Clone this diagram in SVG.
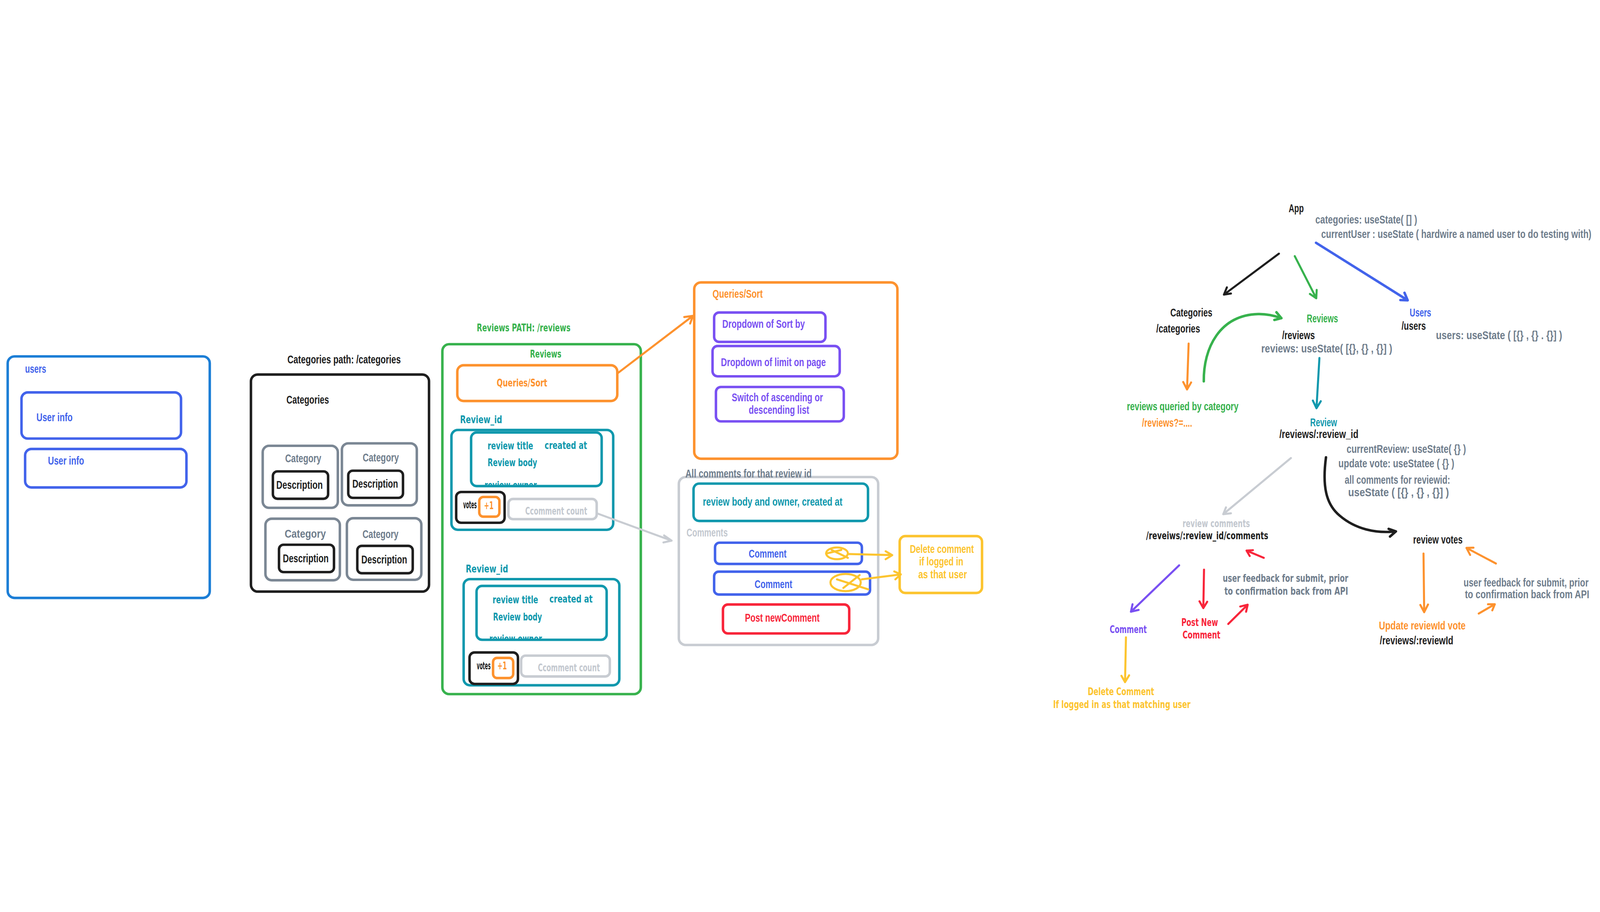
<svg xmlns="http://www.w3.org/2000/svg" width="7071" height="2334" viewBox="0 0 7071 2334">
<style>
svg{width:100vw;height:100vh}
.bx{fill:none;stroke-width:11;stroke-linecap:round;stroke-linejoin:round}
.ln{fill:none;stroke-width:9;stroke-linecap:round;stroke-linejoin:round}
.n{font-family:"Liberation Sans",Arial,sans-serif;font-weight:bold;font-size:50px}
.c{font-family:"DejaVu Sans","Liberation Sans",sans-serif;font-weight:bold;font-size:46px}
.k{fill:#1e1e1e}.bl{fill:#4263eb}.gr{fill:#6f7d8c}.lg{fill:#c3c8cf}.gn{fill:#37b24d}.or{fill:#fd922e}.tl{fill:#1098ad}.pu{fill:#7950f2}.rd{fill:#f8253a}.ye{fill:#fcc42f}
.sk{stroke:#1e1e1e}.sbl{stroke:#4263eb}.sub{stroke:#1c7ed6}.sgy{stroke:#7b8794}.slg{stroke:#c8ccd2}.sgn{stroke:#37b24d}.sor{stroke:#fd922e}.stl{stroke:#1098ad}.spu{stroke:#7950f2}.srd{stroke:#f8253a}.sye{stroke:#fcc42f}
</style>
<defs>
<clipPath id="clipA"><rect x="2090" y="1200" width="600" height="100"/></clipPath>
<clipPath id="clipB"><rect x="2110" y="1880" width="600" height="99"/></clipPath>
</defs>
<rect width="7071" height="2334" fill="#ffffff"/>

<g id="users">
<rect class="bx sub" x="34" y="727" width="893" height="1067" rx="30"/>
<text class="n bl" transform="translate(111 799) scale(.72 1)" textLength="129" lengthAdjust="spacingAndGlyphs" font-size="46">users</text>
</g>
<g id="user-info-1">
<rect class="bx sbl" x="95" y="886" width="705" height="204" rx="28"/>
<text class="n bl" transform="translate(161 1013) scale(.72 1)" textLength="222" lengthAdjust="spacingAndGlyphs">User info</text>
</g>
<g id="user-info-2">
<rect class="bx sbl" x="111" y="1136" width="713" height="170" rx="28"/>
<text class="n bl" transform="translate(212 1205) scale(.72 1)" textLength="222" lengthAdjust="spacingAndGlyphs">User info</text>
</g>

<g id="categories">
<text class="n k" transform="translate(1270 757) scale(.72 1)" textLength="696" lengthAdjust="spacingAndGlyphs" font-size="48">Categories path: /categories</text>
<rect class="bx sk" x="1109" y="807" width="787" height="959" rx="30"/>
<text class="n k" transform="translate(1266 935) scale(.72 1)" textLength="261" lengthAdjust="spacingAndGlyphs" font-size="46">Categories</text>
</g>
<g id="category-1">
<rect class="bx sgy" x="1161" y="1122" width="332" height="274" rx="28"/>
<text class="n gr" transform="translate(1260 1195) scale(.72 1)" textLength="222" lengthAdjust="spacingAndGlyphs" font-size="48">Category</text>
<rect class="bx sk" x="1206" y="1235" width="244" height="121" rx="20"/>
<text class="n k" transform="translate(1221 1312) scale(.72 1)" textLength="285" lengthAdjust="spacingAndGlyphs">Description</text>
</g>
<g id="category-2">
<rect class="bx sgy" x="1511" y="1111" width="331" height="274" rx="28"/>
<text class="n gr" transform="translate(1603 1192) scale(.72 1)" textLength="222" lengthAdjust="spacingAndGlyphs" font-size="48">Category</text>
<rect class="bx sk" x="1539" y="1232" width="242" height="120" rx="20"/>
<text class="n k" transform="translate(1557 1307) scale(.72 1)" textLength="281" lengthAdjust="spacingAndGlyphs">Description</text>
</g>
<g id="category-3">
<rect class="bx sgy" x="1173" y="1444" width="329" height="272" rx="28"/>
<text class="n gr" transform="translate(1258 1528) scale(.72 1)" textLength="253" lengthAdjust="spacingAndGlyphs" font-size="52">Category</text>
<rect class="bx sk" x="1233" y="1559" width="243" height="121" rx="20"/>
<text class="n k" transform="translate(1250 1636) scale(.72 1)" textLength="281" lengthAdjust="spacingAndGlyphs">Description</text>
</g>
<g id="category-4">
<rect class="bx sgy" x="1533" y="1442" width="329" height="272" rx="28"/>
<text class="n gr" transform="translate(1602 1530) scale(.72 1)" textLength="221" lengthAdjust="spacingAndGlyphs" font-size="48">Category</text>
<rect class="bx sk" x="1579" y="1564" width="245" height="121" rx="20"/>
<text class="n k" transform="translate(1597 1641) scale(.72 1)" textLength="281" lengthAdjust="spacingAndGlyphs">Description</text>
</g>

<g id="reviews">
<text class="c gn" transform="translate(2107 617) scale(.68 1)" textLength="609" lengthAdjust="spacingAndGlyphs">Reviews PATH: /reviews</text>
<rect class="bx sgn" x="1955" y="673" width="877" height="1546" rx="30"/>
<text class="c gn" transform="translate(2342 732) scale(.68 1)" textLength="204" lengthAdjust="spacingAndGlyphs">Reviews</text>
</g>
<g id="reviews-queries">
<rect class="bx sor" x="2021" y="766" width="707" height="158" rx="28"/>
<text class="c or" transform="translate(2195 859) scale(.68 1)" textLength="329" lengthAdjust="spacingAndGlyphs" font-size="48">Queries/Sort</text>
</g>
<g id="review-1">
<text class="c tl" transform="translate(2033 1022) scale(.68 1)" textLength="274" lengthAdjust="spacingAndGlyphs" font-size="48">Review_id</text>
<rect class="bx stl" x="1995" y="1052" width="715" height="441" rx="28"/>
<rect class="bx stl" x="2082" y="1063" width="577" height="237" rx="25"/>
<text class="c tl" transform="translate(2155 1138) scale(.68 1)" textLength="296" lengthAdjust="spacingAndGlyphs">review title</text>
<text class="c tl" transform="translate(2407 1136) scale(.68 1)" textLength="276" lengthAdjust="spacingAndGlyphs">created at</text>
<text class="c tl" transform="translate(2155 1212) scale(.68 1)" textLength="322" lengthAdjust="spacingAndGlyphs">Review body</text>
<g clip-path="url(#clipA)"><text class="c tl" transform="translate(2141 1312) scale(.68 1)" textLength="340" lengthAdjust="spacingAndGlyphs">review owner</text></g>
<rect class="bx sk" x="2016" y="1326" width="214" height="136" rx="22"/>
<text class="c k" transform="translate(2047 1398) scale(.68 1)" textLength="88" lengthAdjust="spacingAndGlyphs" font-size="26">votes</text>
<rect class="bx sor" x="2118" y="1348" width="89" height="87" rx="18"/>
<text class="c or" transform="translate(2139 1402) scale(.68 1)" textLength="62" lengthAdjust="spacingAndGlyphs" font-size="44">+1</text>
<rect class="bx slg" x="2247" y="1357" width="390" height="89" rx="20"/>
<text class="c lg" transform="translate(2321 1426) scale(.68 1)" textLength="403" lengthAdjust="spacingAndGlyphs">Ccomment count</text>
</g>
<g id="review-2">
<text class="c tl" transform="translate(2058 1681) scale(.68 1)" textLength="276" lengthAdjust="spacingAndGlyphs" font-size="48">Review_id</text>
<rect class="bx stl" x="2049" y="1711" width="688" height="469" rx="28"/>
<rect class="bx stl" x="2106" y="1741" width="575" height="238" rx="25"/>
<text class="c tl" transform="translate(2177 1817) scale(.68 1)" textLength="296" lengthAdjust="spacingAndGlyphs">review title</text>
<text class="c tl" transform="translate(2428 1815) scale(.68 1)" textLength="281" lengthAdjust="spacingAndGlyphs">created at</text>
<text class="c tl" transform="translate(2179 1893) scale(.68 1)" textLength="318" lengthAdjust="spacingAndGlyphs">Review body</text>
<g clip-path="url(#clipB)"><text class="c tl" transform="translate(2162 1991) scale(.68 1)" textLength="343" lengthAdjust="spacingAndGlyphs">review owner</text></g>
<rect class="bx sk" x="2075" y="2035" width="214" height="139" rx="22"/>
<text class="c k" transform="translate(2107 2109) scale(.68 1)" textLength="90" lengthAdjust="spacingAndGlyphs" font-size="26">votes</text>
<rect class="bx sor" x="2179" y="2059" width="89" height="89" rx="18"/>
<text class="c or" transform="translate(2198 2110) scale(.68 1)" textLength="62" lengthAdjust="spacingAndGlyphs" font-size="44">+1</text>
<rect class="bx slg" x="2303" y="2049" width="392" height="92" rx="20"/>
<text class="c lg" transform="translate(2377 2118) scale(.68 1)" textLength="403" lengthAdjust="spacingAndGlyphs">Ccomment count</text>
</g>

<g id="queries-sort">
<rect class="bx sor" x="3068" y="400" width="898" height="779" rx="30"/>
<text class="n or" transform="translate(3149 467) scale(.72 1)" textLength="308" lengthAdjust="spacingAndGlyphs">Queries/Sort</text>
</g>
<g id="sort-by">
<rect class="bx spu" x="3156" y="533" width="492" height="130" rx="22"/>
<text class="n pu" transform="translate(3192 601) scale(.72 1)" textLength="507" lengthAdjust="spacingAndGlyphs">Dropdown of Sort by</text>
</g>
<g id="limit">
<rect class="bx spu" x="3149" y="681" width="562" height="134" rx="22"/>
<text class="n pu" transform="translate(3186 770) scale(.72 1)" textLength="644" lengthAdjust="spacingAndGlyphs">Dropdown of limit on page</text>
</g>
<g id="order">
<rect class="bx spu" x="3164" y="862" width="565" height="152" rx="22"/>
<text class="n pu" transform="translate(3234 925) scale(.72 1)" textLength="560" lengthAdjust="spacingAndGlyphs">Switch of ascending or</text>
<text class="n pu" transform="translate(3309 981) scale(.72 1)" textLength="371" lengthAdjust="spacingAndGlyphs">descending list</text>
</g>

<g id="comments-panel">
<rect class="bx slg" x="3000" y="1260" width="881" height="742" rx="30"/>
<text class="n gr" transform="translate(3029 1262) scale(.72 1)" textLength="775" lengthAdjust="spacingAndGlyphs" font-size="52">All comments for that review id</text>
<text class="n lg" transform="translate(3034 1522) scale(.72 1)" textLength="253" lengthAdjust="spacingAndGlyphs" font-size="46">Comments</text>
</g>
<g id="review-summary">
<rect class="bx stl" x="3065" y="1289" width="771" height="165" rx="25"/>
<text class="n tl" transform="translate(3106 1387) scale(.72 1)" textLength="857" lengthAdjust="spacingAndGlyphs" font-size="52">review body and owner, created at</text>
</g>
<g id="comment-1">
<rect class="bx sbl" x="3160" y="1550" width="649" height="94" rx="20"/>
<text class="n bl" transform="translate(3309 1615) scale(.72 1)" textLength="232" lengthAdjust="spacingAndGlyphs">Comment</text>
<ellipse class="ln sye" cx="3699" cy="1597" rx="48" ry="26"/>
<path class="ln sye" d="M3675 1582 L3747 1617 M3651 1598 L3718 1582"/>
</g>
<g id="comment-2">
<rect class="bx sbl" x="3156" y="1678" width="689" height="101" rx="20"/>
<text class="n bl" transform="translate(3335 1750) scale(.72 1)" textLength="231" lengthAdjust="spacingAndGlyphs">Comment</text>
<ellipse class="ln sye" cx="3737" cy="1726" rx="67" ry="38"/>
<path class="ln sye" d="M3699 1712 L3837 1756 M3727 1750 L3799 1693"/>
</g>
<g id="delete-comment">
<rect class="bx sye" x="3976" y="1521" width="364" height="251" rx="25"/>
<text class="n ye" transform="translate(4021 1595) scale(.72 1)" textLength="393" lengthAdjust="spacingAndGlyphs">Delete comment</text>
<text class="n ye" transform="translate(4062 1650) scale(.72 1)" textLength="271" lengthAdjust="spacingAndGlyphs">if logged in</text>
<text class="n ye" transform="translate(4058 1707) scale(.72 1)" textLength="299" lengthAdjust="spacingAndGlyphs">as that user</text>
</g>
<g id="post-comment">
<rect class="bx srd" x="3195" y="1823" width="558" height="128" rx="22"/>
<text class="n rd" transform="translate(3292 1899) scale(.72 1)" textLength="458" lengthAdjust="spacingAndGlyphs" font-size="52">Post newComment</text>
</g>

<g id="t-app"><text class="n k" transform="translate(5695 89) scale(.72 1)" textLength="93" lengthAdjust="spacingAndGlyphs">App</text>
<text class="n gr" transform="translate(5813 139) scale(.72 1)" textLength="625" lengthAdjust="spacingAndGlyphs">categories: useState( [] )</text>
<text class="n gr" transform="translate(5839 203) scale(.66 1)" textLength="1809" lengthAdjust="spacingAndGlyphs">currentUser : useState ( hardwire a named user to do testing with)</text></g>
<g id="t-categories"><text class="n k" transform="translate(5172 550) scale(.72 1)" textLength="258" lengthAdjust="spacingAndGlyphs" font-size="46">Categories</text>
<text class="n k" transform="translate(5110 622) scale(.72 1)" textLength="269" lengthAdjust="spacingAndGlyphs" font-size="46">/categories</text></g>
<g id="t-reviews"><text class="n gn" transform="translate(5775 576) scale(.72 1)" textLength="192" lengthAdjust="spacingAndGlyphs" font-size="48">Reviews</text>
<text class="n k" transform="translate(5666 650) scale(.72 1)" textLength="201" lengthAdjust="spacingAndGlyphs" font-size="48">/reviews</text>
<text class="n gr" transform="translate(5574 710) scale(.72 1)" textLength="804" lengthAdjust="spacingAndGlyphs" font-size="48">reviews: useState( [{}, {} , {}] )</text></g>
<g id="t-users"><text class="n bl" transform="translate(6230 550) scale(.72 1)" textLength="132" lengthAdjust="spacingAndGlyphs" font-size="46">Users</text>
<text class="n k" transform="translate(6194 610) scale(.72 1)" textLength="149" lengthAdjust="spacingAndGlyphs" font-size="46">/users</text>
<text class="n gr" transform="translate(6346 650) scale(.72 1)" textLength="775" lengthAdjust="spacingAndGlyphs" font-size="48">users: useState ( [{} , {} . {}] )</text></g>
<g id="t-queried"><text class="n gn" transform="translate(4980 965) scale(.72 1)" textLength="685" lengthAdjust="spacingAndGlyphs">reviews queried by category</text>
<text class="n or" transform="translate(5047 1038) scale(.72 1)" textLength="308" lengthAdjust="spacingAndGlyphs" font-size="48">/reviews?=....</text></g>
<g id="t-review"><text class="n tl" transform="translate(5790 1036) scale(.72 1)" textLength="165" lengthAdjust="spacingAndGlyphs" font-size="46">Review</text>
<text class="n k" transform="translate(5654 1088) scale(.72 1)" textLength="485" lengthAdjust="spacingAndGlyphs" font-size="48">/reviews/:review_id</text>
<text class="n gr" transform="translate(5951 1153) scale(.72 1)" textLength="733" lengthAdjust="spacingAndGlyphs" font-size="48">currentReview: useState( {} )</text>
<text class="n gr" transform="translate(5915 1217) scale(.72 1)" textLength="711" lengthAdjust="spacingAndGlyphs" font-size="48">update vote: useStatee ( {} )</text>
<text class="n gr" transform="translate(5943 1289) scale(.72 1)" textLength="647" lengthAdjust="spacingAndGlyphs" font-size="48">all comments for reviewid:</text>
<text class="n gr" transform="translate(5958 1345) scale(.72 1)" textLength="619" lengthAdjust="spacingAndGlyphs" font-size="48">useState ( [{} , {} , {}] )</text></g>
<g id="t-review-comments"><text class="c lg" transform="translate(5226 1481) scale(.68 1)" textLength="438" lengthAdjust="spacingAndGlyphs" font-size="44">review comments</text>
<text class="c k" transform="translate(5065 1535) scale(.68 1)" textLength="794" lengthAdjust="spacingAndGlyphs">/reveiws/:review_id/comments</text></g>
<g id="t-feedback-1"><text class="c gr" transform="translate(5404 1723) scale(.68 1)" textLength="815" lengthAdjust="spacingAndGlyphs">user feedback for submit, prior</text>
<text class="c gr" transform="translate(5411 1780) scale(.68 1)" textLength="804" lengthAdjust="spacingAndGlyphs">to confirmation back from API</text></g>
<g id="t-comment"><text class="c pu" transform="translate(4904 1949) scale(.68 1)" textLength="241" lengthAdjust="spacingAndGlyphs">Comment</text></g>
<g id="t-post-new"><text class="c rd" transform="translate(5221 1918) scale(.68 1)" textLength="238" lengthAdjust="spacingAndGlyphs">Post New</text>
<text class="c rd" transform="translate(5226 1974) scale(.68 1)" textLength="246" lengthAdjust="spacingAndGlyphs">Comment</text></g>
<g id="t-delete"><text class="c ye" transform="translate(4807 2224) scale(.68 1)" textLength="432" lengthAdjust="spacingAndGlyphs">Delete Comment</text>
<text class="c ye" transform="translate(4654 2280) scale(.68 1)" textLength="893" lengthAdjust="spacingAndGlyphs">If logged in as that matching user</text></g>
<g id="t-votes"><text class="n k" transform="translate(6245 1553) scale(.72 1)" textLength="304" lengthAdjust="spacingAndGlyphs" font-size="48">review votes</text></g>
<g id="t-feedback-2"><text class="n gr" transform="translate(6468 1743) scale(.72 1)" textLength="767" lengthAdjust="spacingAndGlyphs" font-size="48">user feedback for submit, prior</text>
<text class="n gr" transform="translate(6474 1796) scale(.72 1)" textLength="763" lengthAdjust="spacingAndGlyphs" font-size="48">to confirmation back from API</text></g>
<g id="t-update-vote"><text class="n or" transform="translate(6094 1933) scale(.72 1)" textLength="532" lengthAdjust="spacingAndGlyphs" font-size="48">Update reviewId vote</text>
<text class="n k" transform="translate(6098 1999) scale(.72 1)" textLength="451" lengthAdjust="spacingAndGlyphs" font-size="48">/reviews/:reviewId</text></g>

<g id="connectors">
<path class="ln sor" d="M2730 801 L3062 548 M3024 553 L3062 548 L3050 582"/>
<path class="ln slg" d="M2640 1421 L2968 1541 M2935 1518 L2968 1541 L2932 1549"/>
<path class="ln sye" d="M3751 1600 L3943 1605 M3914 1588 L3943 1605 L3914 1623"/>
<path class="ln sye" d="M3809 1712 L3981 1690 M3952 1677 L3981 1690 L3957 1712"/>
<path class="ln sk" d="M5652 273 L5409 454 M5440 449 L5409 454 L5422 422"/>
<path class="ln sgn" d="M5722 284 L5817 470 M5789 451 L5817 470 L5819 433"/>
<path class="bx sbl" d="M5816 225 L6221 479 M6189 478 L6221 479 L6207 446"/>
<path class="bx sgn" d="M5320 837 C5318 690 5390 545 5560 540 C5600 539 5635 548 5663 558 M5641 532 L5663 558 L5632 566"/>
<path class="ln sor" d="M5253 670 L5246 873 M5229 840 L5246 873 L5264 842"/>
<path class="ln stl" d="M5831 734 L5818 956 M5802 922 L5818 956 L5837 925"/>
<path class="ln slg" d="M5705 1176 L5406 1424 M5418 1394 L5406 1424 L5440 1420"/>
<path class="bx sk" d="M5860 1173 C5843 1300 5860 1380 5920 1430 C5990 1490 6080 1510 6169 1500 M6137 1489 L6169 1500 L6143 1523"/>
<path class="ln srd" d="M5585 1617 L5509 1585 M5537 1583 L5509 1585 L5523 1609"/>
<path class="ln spu" d="M5211 1650 L4998 1855 M5005 1822 L4998 1855 L5032 1847"/>
<path class="ln srd" d="M5321 1669 L5318 1839 M5301 1809 L5318 1839 L5335 1811"/>
<path class="ln srd" d="M5428 1909 L5514 1824 M5481 1832 L5514 1824 L5507 1855"/>
<path class="ln sye" d="M4976 1968 L4972 2166 M4956 2138 L4972 2166 L4990 2136"/>
<path class="ln sor" d="M6611 1642 L6481 1573 M6512 1572 L6481 1573 L6497 1604"/>
<path class="ln sor" d="M6291 1598 L6294 1857 M6277 1825 L6294 1857 L6311 1823"/>
<path class="ln sor" d="M6535 1863 L6606 1822 M6576 1822 L6606 1822 L6595 1849"/>
</g>
</svg>
